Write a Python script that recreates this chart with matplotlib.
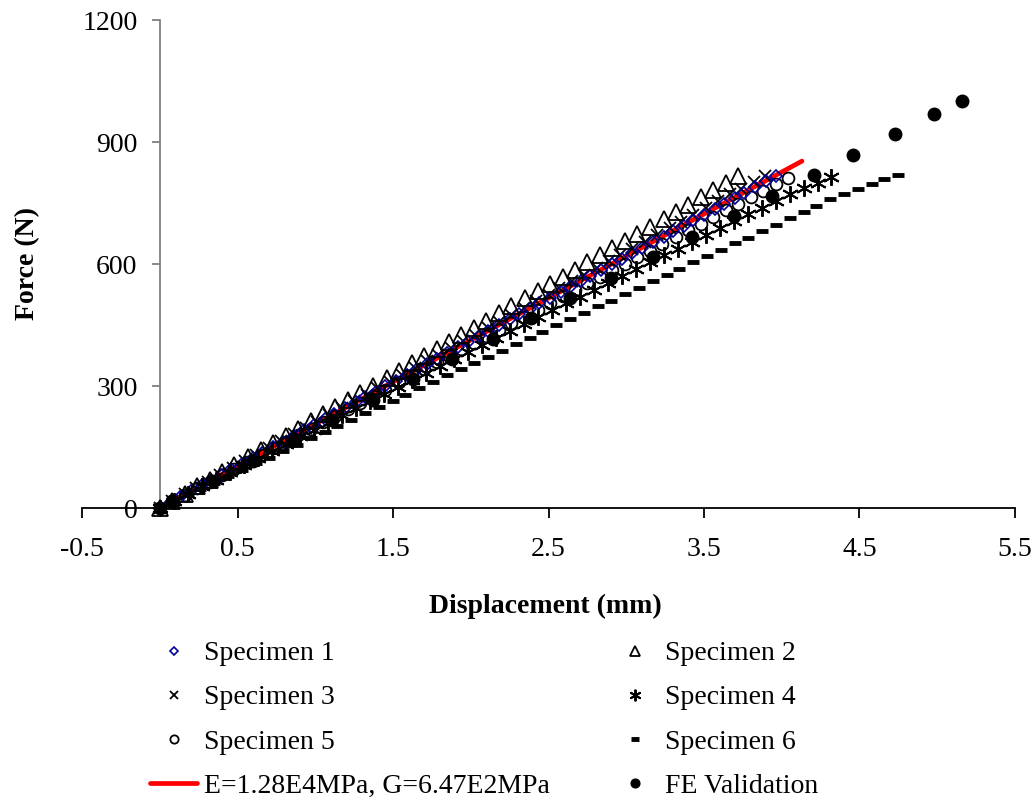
import matplotlib
matplotlib.use("Agg")
import matplotlib.pyplot as plt

plt.rcParams['font.family'] = ['Liberation Serif', 'DejaVu Serif']

# Specimen 1 (blue diamonds)
s1_x = [0, 0.07, 0.13, 0.20, 0.27, 0.33, 0.40, 0.46, 0.53, 0.60, 0.66, 0.73, 0.79, 0.86, 0.93, 0.99,
        1.06, 1.12, 1.19, 1.26, 1.32, 1.39, 1.45, 1.52, 1.59, 1.65, 1.72, 1.78, 1.85, 1.92, 1.98,
        2.05, 2.11, 2.18, 2.25, 2.31, 2.38, 2.44, 2.51, 2.58, 2.64, 2.71, 2.77, 2.84, 2.91, 2.97,
        3.04, 3.10, 3.17, 3.24, 3.30, 3.37, 3.43, 3.50, 3.57, 3.63, 3.70, 3.76, 3.83, 3.90, 3.96]
s1_y = [0, 14, 27, 41, 56, 68, 82, 95, 109, 124, 136, 150, 163, 177, 192, 204,
        218, 231, 245, 260, 272, 286, 299, 313, 328, 340, 354, 367, 381, 396, 408,
        422, 435, 449, 464, 476, 490, 503, 517, 531, 544, 558, 571, 585, 599, 612,
        626, 639, 653, 667, 680, 694, 707, 721, 735, 748, 762, 775, 789, 803, 816]

# Specimen 2 (triangles)
s2_x = [0, 0.08, 0.16, 0.24, 0.32, 0.40, 0.48, 0.57, 0.65, 0.73, 0.81, 0.89, 0.97, 1.05, 1.13, 1.21,
        1.29, 1.37, 1.46, 1.54, 1.62, 1.70, 1.78, 1.86, 1.94, 2.02, 2.10, 2.18, 2.26, 2.35, 2.43,
        2.51, 2.59, 2.67, 2.75, 2.83, 2.91, 2.99, 3.07, 3.15, 3.24, 3.32, 3.40, 3.48, 3.56, 3.64, 3.72]
s2_y = [0, 18, 35, 53, 70, 88, 105, 125, 143, 160, 178, 195, 213, 230, 248, 266,
        283, 301, 320, 338, 356, 373, 391, 408, 426, 443, 461, 479, 496, 516, 533,
        551, 569, 586, 604, 621, 639, 656, 674, 691, 711, 729, 746, 764, 781, 799, 816]

# Specimen 3 (x)
s3_x = [0, 0.08, 0.16, 0.23, 0.31, 0.39, 0.47, 0.55, 0.62, 0.70, 0.78, 0.86, 0.94, 1.01, 1.09, 1.17,
        1.25, 1.33, 1.40, 1.48, 1.56, 1.64, 1.72, 1.79, 1.87, 1.95, 2.03, 2.11, 2.18, 2.26, 2.34,
        2.42, 2.50, 2.57, 2.65, 2.73, 2.81, 2.89, 2.96, 3.04, 3.12, 3.20, 3.28, 3.35, 3.43, 3.51,
        3.59, 3.67, 3.74, 3.82, 3.89]
s3_y = [0, 17, 34, 48, 65, 82, 99, 116, 130, 147, 164, 181, 197, 212, 229, 246,
        263, 279, 294, 311, 328, 344, 361, 376, 393, 410, 426, 443, 458, 475, 491,
        508, 525, 540, 557, 573, 590, 607, 622, 638, 655, 672, 689, 704, 720, 737,
        754, 771, 785, 802, 817]

# Specimen 4 (asterisks)
s4_x = [0, 0.09, 0.18, 0.27, 0.36, 0.45, 0.54, 0.63, 0.72, 0.81, 0.90, 0.99, 1.08, 1.17, 1.26, 1.35,
        1.44, 1.53, 1.62, 1.71, 1.80, 1.89, 1.98, 2.07, 2.16, 2.25, 2.34, 2.43, 2.52, 2.61, 2.70,
        2.79, 2.88, 2.97, 3.06, 3.15, 3.24, 3.33, 3.42, 3.51, 3.60, 3.69, 3.78, 3.87, 3.96, 4.05,
        4.14, 4.23, 4.32]
s4_y = [0, 18, 35, 53, 70, 88, 105, 123, 140, 158, 176, 193, 210, 228, 245, 263,
        280, 297, 315, 332, 349, 367, 384, 401, 418, 435, 452, 469, 486, 503, 520,
        537, 554, 571, 588, 605, 622, 638, 655, 672, 688, 705, 722, 738, 755, 771,
        787, 800, 813]

# Specimen 5 (circles)
s5_x = [0, 0.08, 0.16, 0.24, 0.32, 0.40, 0.48, 0.56, 0.65, 0.73, 0.81, 0.89, 0.97, 1.05, 1.13, 1.21,
        1.29, 1.37, 1.45, 1.54, 1.62, 1.70, 1.78, 1.86, 1.94, 2.02, 2.10, 2.18, 2.26, 2.34, 2.43,
        2.51, 2.59, 2.67, 2.75, 2.83, 2.91, 2.99, 3.07, 3.15, 3.23, 3.32, 3.40, 3.48, 3.56, 3.64,
        3.72, 3.80, 3.88, 3.96, 4.04]
s5_y = [0, 16, 32, 48, 64, 80, 96, 113, 131, 147, 163, 179, 195, 211, 227, 243,
        259, 275, 291, 310, 326, 342, 358, 374, 390, 406, 422, 438, 454, 470, 488,
        505, 521, 537, 553, 569, 585, 601, 617, 633, 649, 667, 683, 699, 716, 732,
        748, 764, 780, 796, 811]

# Specimen 6 (dashes)
s6_x = [0, 0.09, 0.18, 0.26, 0.35, 0.44, 0.53, 0.62, 0.70, 0.79, 0.88, 0.97, 1.06, 1.14, 1.23, 1.32,
        1.41, 1.50, 1.58, 1.67, 1.76, 1.85, 1.94, 2.02, 2.11, 2.20, 2.29, 2.38, 2.46, 2.55, 2.64,
        2.73, 2.82, 2.90, 2.99, 3.08, 3.17, 3.26, 3.34, 3.43, 3.52, 3.61, 3.70, 3.78, 3.87, 3.96,
        4.05, 4.14, 4.22, 4.31, 4.40, 4.49, 4.58, 4.66, 4.75]
s6_y = [0, 16, 32, 46, 62, 78, 94, 110, 124, 140, 155, 171, 187, 201, 217, 233,
        249, 264, 278, 294, 310, 326, 341, 356, 371, 387, 403, 419, 433, 449, 465,
        480, 496, 510, 526, 542, 558, 574, 588, 604, 620, 635, 651, 665, 681, 697,
        713, 729, 743, 759, 771, 785, 797, 808, 819]

# fitted model line
fit_x = [0, 4.13]
fit_y = [0, 853]

# FE validation
fe_x = [0, 0.08, 0.34, 0.60, 0.86, 1.11, 1.37, 1.63, 1.88, 2.14, 2.39, 2.64, 2.90, 3.17, 3.42,
        3.69, 3.94, 4.21, 4.46, 4.73, 4.98, 5.16]
fe_y = [0, 16, 66, 116, 166, 216, 266, 316, 366, 416, 466, 516, 566, 617, 666,
        718, 767, 819, 868, 920, 969, 1001]

x_ticks = [-0.5, 0.5, 1.5, 2.5, 3.5, 4.5, 5.5]
y_ticks = [0, 300, 600, 900, 1200]

fig = plt.figure(figsize=(10.32, 8), dpi=100)
ax = fig.add_axes([0.0795, 0.365, 0.904, 0.61])

fit_line, = ax.plot(fit_x, fit_y, color='#ff0000', lw=3.4, solid_capstyle='round', zorder=2,
                    label='E=1.28E4MPa, G=6.47E2MPa')
h3, = ax.plot(s3_x, s3_y, ls='none', marker='x', ms=9, mew=1.3, color='black', clip_on=False,
              zorder=3, label='Specimen 3')
h5, = ax.plot(s5_x, s5_y, ls='none', marker='o', ms=8.5, mew=1.3, mfc='none', mec='black',
              clip_on=False, zorder=3, label='Specimen 5')
h1, = ax.plot(s1_x, s1_y, ls='none', marker='D', ms=6.5, mew=1.2, mfc='none', mec='#000099',
              clip_on=False, zorder=4, label='Specimen 1')
h2, = ax.plot(s2_x, s2_y, ls='none', marker='^', ms=11, mew=1.3, mfc='none', mec='black',
              clip_on=False, zorder=4, label='Specimen 2')
h4, = ax.plot(s4_x, s4_y, ls='none', marker=(6, 2, 0), ms=12, mew=1.4, color='black',
              clip_on=False, zorder=4, label='Specimen 4')
h6, = ax.plot(s6_x, s6_y, ls='none', marker='_', ms=8, mew=3.5, color='black',
              clip_on=False, zorder=4, label='Specimen 6')
hfe, = ax.plot(fe_x, fe_y, ls='none', marker='o', ms=9, color='black', clip_on=False,
               zorder=5, label='FE Validation')

ax.set_xlim(-0.5, 5.5)
ax.set_ylim(0, 1200)
ax.set_xticks(x_ticks)
ax.set_xticklabels([str(t) for t in x_ticks])
ax.set_yticks(y_ticks)

ax.spines['top'].set_visible(False)
ax.spines['right'].set_visible(False)
ax.spines['left'].set_position(('data', 0))
ax.spines['left'].set_color('#808080')
ax.spines['left'].set_linewidth(1.3)
ax.spines['bottom'].set_linewidth(1.3)
ax.tick_params(axis='y', direction='out', length=6, width=1.3, color='#808080', labelsize=20, pad=10)
ax.tick_params(axis='x', direction='out', length=7, width=1.3, color='black', labelsize=20, pad=14)

fig.text(0.528, 1 - 606 / 800, 'Displacement (mm)', ha='center', va='center',
         fontsize=20, fontweight='bold')
fig.text(28 / 1032, 1 - 264 / 800, 'Force (N)', ha='center', va='center', rotation=90,
         fontsize=20, fontweight='bold')

handles = [h1, h3, h5, fit_line, h2, h4, h6, hfe]
fig.legend(handles=handles, labels=[h.get_label() for h in handles], ncol=2,
           loc='upper left', bbox_to_anchor=(150 / 1032, 1 - 641 / 800), frameon=False,
           fontsize=20, markerscale=0.7, handlelength=1.7, handletextpad=0.25,
           columnspacing=2.2, labelspacing=0.67, borderpad=0, borderaxespad=0)

fig.savefig('out.png', dpi=100)
